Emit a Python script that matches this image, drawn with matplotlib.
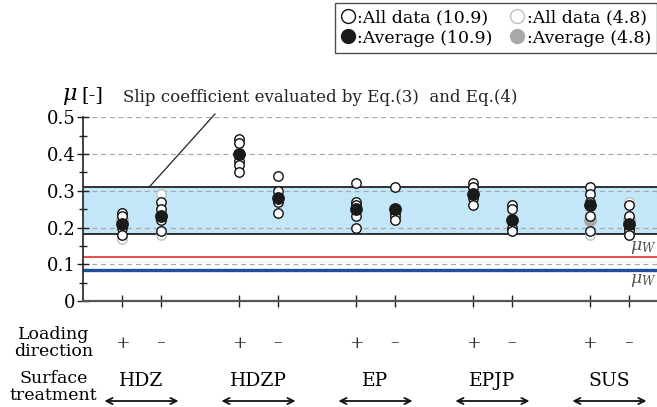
import matplotlib
matplotlib.use("Agg")
import matplotlib.pyplot as plt
import matplotlib.transforms as mtransforms

plt.rcParams['font.family'] = ['DejaVu Serif']
plt.rcParams['mathtext.fontset'] = 'dejavuserif'

# ---------------- data ----------------
groups = ["HDZ", "HDZP", "EP", "EPJP", "SUS"]
directions = ["+", "\u2013"]
positions = [1, 2, 4, 5, 7, 8, 10, 11, 13, 14]

# All data, bolt grade 10.9 (one list per group/direction)
all_10_9 = [
    [0.24, 0.23, 0.20, 0.18],
    [0.27, 0.25, 0.22, 0.19],
    [0.44, 0.43, 0.38, 0.37, 0.35],
    [0.34, 0.30, 0.27, 0.24],
    [0.32, 0.27, 0.26, 0.23, 0.20],
    [0.31, 0.24, 0.23, 0.22],
    [0.32, 0.31, 0.28, 0.26],
    [0.26, 0.25, 0.20, 0.19],
    [0.31, 0.29, 0.27, 0.23, 0.19],
    [0.26, 0.23, 0.20, 0.19, 0.18],
]
avg_10_9 = [0.21, 0.23, 0.40, 0.28, 0.25, 0.25, 0.29, 0.22, 0.26, 0.21]

# bolt grade 4.8 (only some conditions)
pos_4_8 = [1, 2, 13, 14]
all_4_8 = [
    [0.22, 0.17],
    [0.29, 0.18],
    [0.18],
    [0.27, 0.22, 0.18],
]
avg_4_8 = [0.22, 0.23, 0.22, 0.22]

band_low, band_high = 0.183, 0.309
mu_w_red = 0.119
mu_w_blue = 0.085

# ---------------- figure ----------------
W, H = 657, 407
fig = plt.figure(figsize=(W / 100, H / 100), dpi=100)
ax = fig.add_axes([83 / W, 106 / H, (W - 83) / W, (301 - 117.3) / H])
ax.set_xlim(0, 14.72)
ax.set_ylim(0, 0.5)

# grid
for g in [0.1, 0.2, 0.3, 0.4, 0.5]:
    ax.axhline(g, color="#a8a8a8", lw=0.9, ls=(0, (4, 3)), zorder=1)

# band
ax.axhspan(band_low, band_high, facecolor="#c3e7f8", edgecolor="none", zorder=0)
ax.axhline(band_low, color="#111111", lw=1.2, zorder=2)
ax.axhline(band_high, color="#111111", lw=1.2, zorder=2)
ax.axhline(mu_w_red, color="#e0302e", lw=1.2, zorder=2)
ax.axhline(mu_w_blue, color="#1f4e9c", lw=2.4, zorder=2)

# points
ms_all, ms_avg = 6.8, 8.2
for p, vals in zip(pos_4_8, all_4_8):
    ax.plot([p] * len(vals), vals, ls="none", marker="o", ms=ms_all,
            mfc="white", mec="#c0c0c0", mew=1.0, zorder=3, clip_on=False)
ax.plot(pos_4_8, avg_4_8, ls="none", marker="o", ms=ms_avg,
        mfc="#a8a8a8", mec="#a8a8a8", zorder=4)
for p, vals in zip(positions, all_10_9):
    ax.plot([p] * len(vals), vals, ls="none", marker="o", ms=ms_all,
            mfc="white", mec="#111111", mew=1.0, zorder=5)
ax.plot(positions, avg_10_9, ls="none", marker="o", ms=ms_avg,
        mfc="#1a1a1a", mec="#1a1a1a", zorder=6)

# axes styling
for s in ["top", "right"]:
    ax.spines[s].set_visible(False)
ax.spines["left"].set_color("#222222")
ax.spines["left"].set_linewidth(1.2)
ax.spines["bottom"].set_color("#555555")
ax.spines["bottom"].set_linewidth(1.6)
ax.set_yticks([0, 0.1, 0.2, 0.3, 0.4, 0.5])
ax.set_yticklabels(["0", "0.1", "0.2", "0.3", "0.4", "0.5"])
ax.set_yticks([0.05, 0.15, 0.25, 0.35, 0.45], minor=True)
ax.tick_params(axis="y", which="major", direction="inout", length=9, width=1.0,
               labelsize=13, pad=1, color="#222222")
ax.tick_params(axis="y", which="minor", direction="inout", length=5.5, width=1.0,
               color="#222222")
ax.set_xticks(positions)
ax.set_xticklabels([])
ax.tick_params(axis="x", which="major", direction="inout", length=8, width=1.0,
               color="#222222")

# y label
fig.text(62 / W, 1 - 96 / H, r"$\mu$", fontsize=16, va="center", ha="left")
fig.text(81 / W, 1 - 95 / H, "[-]", fontsize=14, va="center", ha="left")

# annotation
fig.text(123 / W, 1 - 97 / H, "Slip coefficient evaluated by Eq.(3)  and Eq.(4)",
         fontsize=12, va="center", ha="left", color="#222222")
fig.add_artist(plt.Line2D([215 / W, 149.3 / W], [1 - 114 / H, 1 - 187 / H],
                          color="#222222", lw=0.9))

# mu_W labels
ax.text(14.7, 0.146, r"$\mu_W$", fontsize=12.5, ha="right", va="center", color="#555555")
ax.text(14.7, 0.057, r"$\mu_W$", fontsize=12.5, ha="right", va="center", color="#555555")

# bottom labels
trans = mtransforms.blended_transform_factory(ax.transData, fig.transFigure)
for i, p in enumerate(positions):
    ax.text(p, 1 - 343 / H, directions[i % 2], transform=trans, ha="center",
            va="center", fontsize=12.5, color="#333333")
for gi, g in enumerate(groups):
    c = (positions[2 * gi] + positions[2 * gi + 1]) / 2
    ax.text(c, 1 - 381 / H, g, transform=trans, ha="center", va="center", fontsize=13.5)
    ax.annotate("", xy=(c - 0.95, 1 - 401 / H), xytext=(c + 0.95, 1 - 401 / H),
                xycoords=trans, textcoords=trans,
                arrowprops=dict(arrowstyle="<->", lw=1.3, color="#111111",
                                mutation_scale=11, shrinkA=0, shrinkB=0),
                annotation_clip=False)
fig.text(53.6 / W, 1 - 343 / H, "Loading\ndirection", ha="center", va="center",
         fontsize=12.5, linespacing=0.95)
fig.text(53.6 / W, 1 - 387 / H, "Surface\ntreatment", ha="center", va="center",
         fontsize=12.5, linespacing=0.95)

# legend
h1, = ax.plot([], [], ls="none", marker="o", ms=10, mfc="white", mec="#111111", mew=1.0)
h2, = ax.plot([], [], ls="none", marker="o", ms=10, mfc="#1a1a1a", mec="#1a1a1a")
h3, = ax.plot([], [], ls="none", marker="o", ms=10, mfc="white", mec="#c0c0c0", mew=1.0)
h4, = ax.plot([], [], ls="none", marker="o", ms=10, mfc="#a8a8a8", mec="#a8a8a8")
leg = fig.legend([h1, h2, h3, h4],
                 [":All data (10.9)", ":Average (10.9)", ":All data (4.8)", ":Average (4.8)"],
                 ncol=2, loc="upper right", bbox_to_anchor=(1.0, 1 - 3 / H),
                 frameon=True, fancybox=False, edgecolor="#222222", fontsize=12.5,
                 handlelength=0.8, handletextpad=0.15, columnspacing=1.0,
                 labelspacing=0.2, borderpad=0.35, borderaxespad=0.0)
leg.get_frame().set_linewidth(1.0)

fig.savefig("out.png", dpi=100)
